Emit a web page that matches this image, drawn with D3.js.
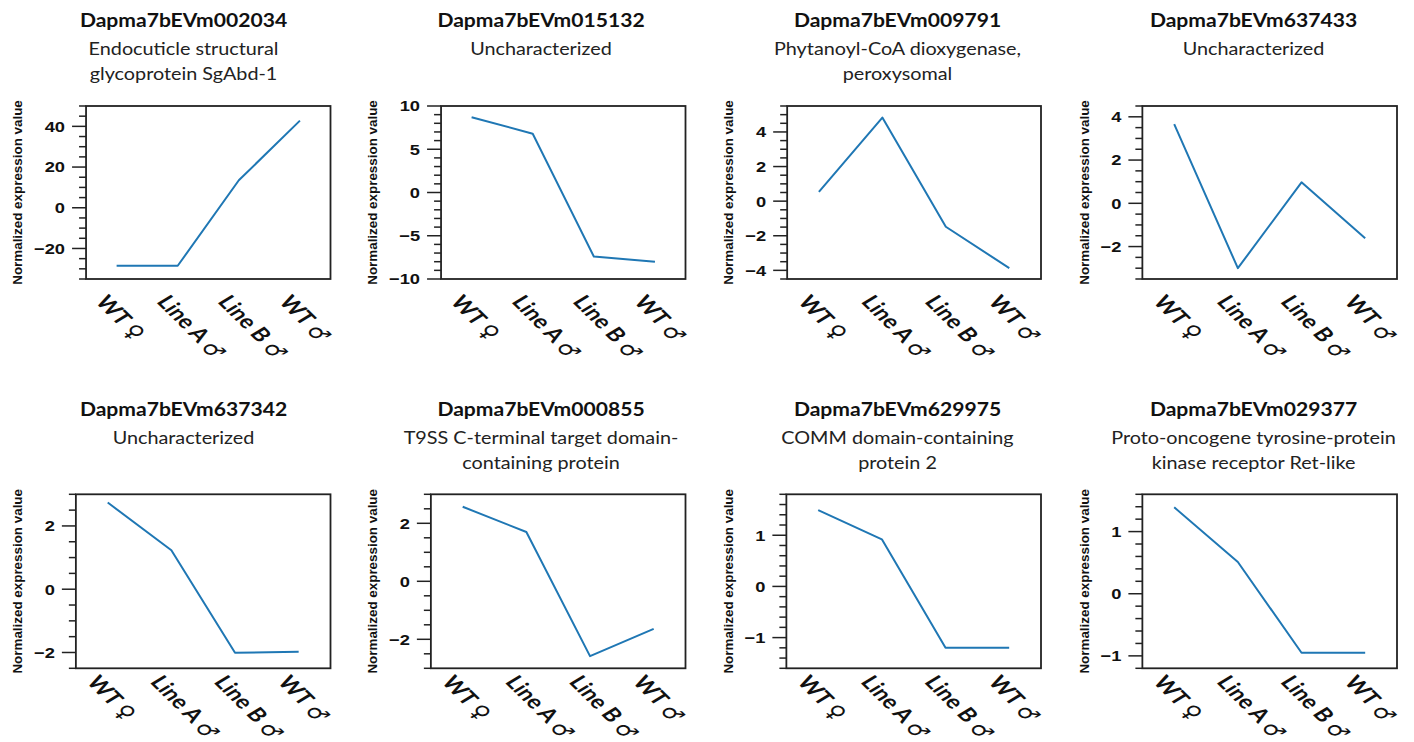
<!DOCTYPE html>
<html>
<head>
<meta charset="utf-8">
<script src="https://cdn.jsdelivr.net/npm/d3@7"></script>
<style>
  body { margin: 0; background: #fff; }
  #container { width: 1414px; height: 742px; }
</style>
</head>
<body>
<div id="container"></div>
<script>
const width = 1414;
const height = 742;

// data
const groups = ["WT", "Line A", "Line B", "WT"];
const sexes = ["\u2640", "\u2642", "\u2642", "\u2642"];

const geneIds = [
    "Dapma7bEVm002034", "Dapma7bEVm015132", "Dapma7bEVm009791", "Dapma7bEVm637433",
    "Dapma7bEVm637342", "Dapma7bEVm000855", "Dapma7bEVm629975", "Dapma7bEVm029377"
];
const geneNames = [
    ["Endocuticle structural", "glycoprotein SgAbd-1"],
    ["Uncharacterized"],
    ["Phytanoyl-CoA dioxygenase,", "peroxysomal"],
    ["Uncharacterized"],
    ["Uncharacterized"],
    ["T9SS C-terminal target domain-", "containing protein"],
    ["COMM domain-containing", "protein 2"],
    ["Proto-oncogene tyrosine-protein", "kinase receptor Ret-like"]
];
const values = [
    [-28.5, -28.5, 13.5, 42.8],
    [8.7, 6.8, -7.4, -8.0],
    [0.54, 4.83, -1.48, -3.87],
    [3.66, -3.0, 0.97, -1.62],
    [2.74, 1.23, -2.01, -1.98],
    [2.57, 1.7, -2.58, -1.64],
    [1.49, 0.92, -1.2, -1.2],
    [1.39, 0.51, -0.95, -0.95]
];
const yDomains = [
    [-35, 50], [-10, 10], [-4.5, 5.5], [-3.5, 4.5],
    [-2.5, 3], [-3, 3], [-1.6, 1.8], [-1.2, 1.6]
];
const yMajorTicks = [
    [-20, 0, 20, 40], [-10, -5, 0, 5, 10], [-4, -2, 0, 2, 4], [-2, 0, 2, 4],
    [-2, 0, 2], [-2, 0, 2], [-1, 0, 1], [-1, 0, 1]
];
const yMinorStep = [5, 1, 0.5, 0.5, 0.5, 0.5, 0.2, 0.2];
const yLabel = "Normalized expression value";

// layout
const colX = [0, 355, 710.5, 1066.5];
const titleCx = [183.5, 541, 897.5, 1253.5];
const rowTitleY = [27, 416];
const rowSubY = [54.5, 443.5];
const rowTop = [106, 494.3];
const rowBottom = [279, 668.3];
const catDy = [23, 14];
const SX_TITLE = 1.14;
const SX_SUB = 1.1;
const SX_TICK = 1.22;
const SX_CAT = 1.3;   // the figure looks stretched sideways

const svg = d3.create("svg")
    .attr("width", width)
    .attr("height", height)
    .attr("viewBox", `0 0 ${width} ${height}`)
    .attr("xmlns", "http://www.w3.org/2000/svg");

document.getElementById("container").append(svg.node());

geneIds.forEach((id, i) => {
    const col = i % 4, row = Math.floor(i / 4);
    const x0 = colX[col];
    const g = svg.append("g");

    // titles
    g.append("text")
        .attr("transform", `translate(${titleCx[col]},${rowTitleY[row]}) scale(${SX_TITLE},1)`)
        .attr("text-anchor", "middle")
        .attr("font-family", "Lato, 'Open Sans', sans-serif")
        .attr("font-weight", "bold")
        .attr("font-size", 18.5)
        .attr("fill", "#111")
        .text(id);
    geneNames[i].forEach((line, k) => {
        g.append("text")
            .attr("transform", `translate(${titleCx[col]},${rowSubY[row] + k * 25.5}) scale(${SX_SUB},1)`)
            .attr("text-anchor", "middle")
            .attr("font-family", "Lato, 'Open Sans', sans-serif")
            .attr("font-size", 18)
            .attr("fill", "#222")
            .text(line);
    });

    const y = d3.scaleLinear().domain(yDomains[i]).range([rowBottom[row], rowTop[row]]);

    // tick labels first, to size the left margin
    const labelLeft = x0 + 34;
    const tl = g.append("g").selectAll("text")
        .data(yMajorTicks[i])
        .join("text")
        .attr("font-family", "'Liberation Sans', Arial, sans-serif")
        .attr("font-weight", "bold")
        .attr("font-size", 15)
        .attr("fill", "#111")
        .attr("text-anchor", "end")
        .attr("dy", "0.36em")
        .text(d => d3.format("d")(d));
    let maxW = 0;
    tl.each(function() { maxW = Math.max(maxW, this.getBBox().width * SX_TICK); });
    const labelRight = labelLeft + maxW;
    tl.attr("transform", d => `translate(${labelRight},${y(d)}) scale(${SX_TICK},1)`);

    const left = labelRight + 7 + 14;
    const right = x0 + 330.5;

    const x = d3.scalePoint().domain(d3.range(groups.length)).range([left, right]).padding(0.5);

    // y axis title
    g.append("text")
        .attr("transform", `translate(${x0 + 22},${(rowTop[row] + rowBottom[row]) / 2}) rotate(-90)`)
        .attr("text-anchor", "middle")
        .attr("font-family", "'Liberation Sans', Arial, sans-serif")
        .attr("font-weight", "bold")
        .attr("font-size", 13.4)
        .attr("fill", "#111")
        .text(yLabel);

    // ticks
    const [lo, hi] = yDomains[i];
    const minor = d3.range(Math.ceil(lo / yMinorStep[i] - 1e-6), Math.floor(hi / yMinorStep[i] + 1e-6) + 1)
        .map(k => +(k * yMinorStep[i]).toFixed(4));
    g.append("g").selectAll("line")
        .data(minor)
        .join("line")
        .attr("x1", d => yMajorTicks[i].includes(d) ? left - 14 : left - 7)
        .attr("x2", left)
        .attr("y1", d => y(d))
        .attr("y2", d => y(d))
        .attr("stroke", "#222")
        .attr("stroke-width", 1.5);

    // frame
    g.append("rect")
        .attr("x", left)
        .attr("y", rowTop[row])
        .attr("width", right - left)
        .attr("height", rowBottom[row] - rowTop[row])
        .attr("fill", "none")
        .attr("stroke", "#222")
        .attr("stroke-width", 1.8);

    // line
    const line = d3.line().x((d, j) => x(j)).y(d => y(d));
    g.append("path")
        .datum(values[i])
        .attr("d", line)
        .attr("fill", "none")
        .attr("stroke", "#1f77b4")
        .attr("stroke-width", 2)
        .attr("stroke-linejoin", "round");

    // rotated category labels
    groups.forEach((name, j) => {
        const t = g.append("text")
            .attr("transform", `translate(${x(j) - 22},${rowBottom[row] + catDy[row]}) scale(${SX_CAT},1) rotate(52)`)
            .attr("font-family", "Lato, 'Open Sans', sans-serif")
            .attr("font-weight", "bold")
            .attr("font-size", 19)
            .attr("fill", "#111");
        t.append("tspan").text(name + " ");
        t.append("tspan")
            .attr("font-family", "'DejaVu Sans', sans-serif")
            .attr("font-weight", "normal")
            .attr("font-size", 19)
            .attr("dy", 1)
            .text(sexes[j]);
    });
});
</script>
</body>
</html>
